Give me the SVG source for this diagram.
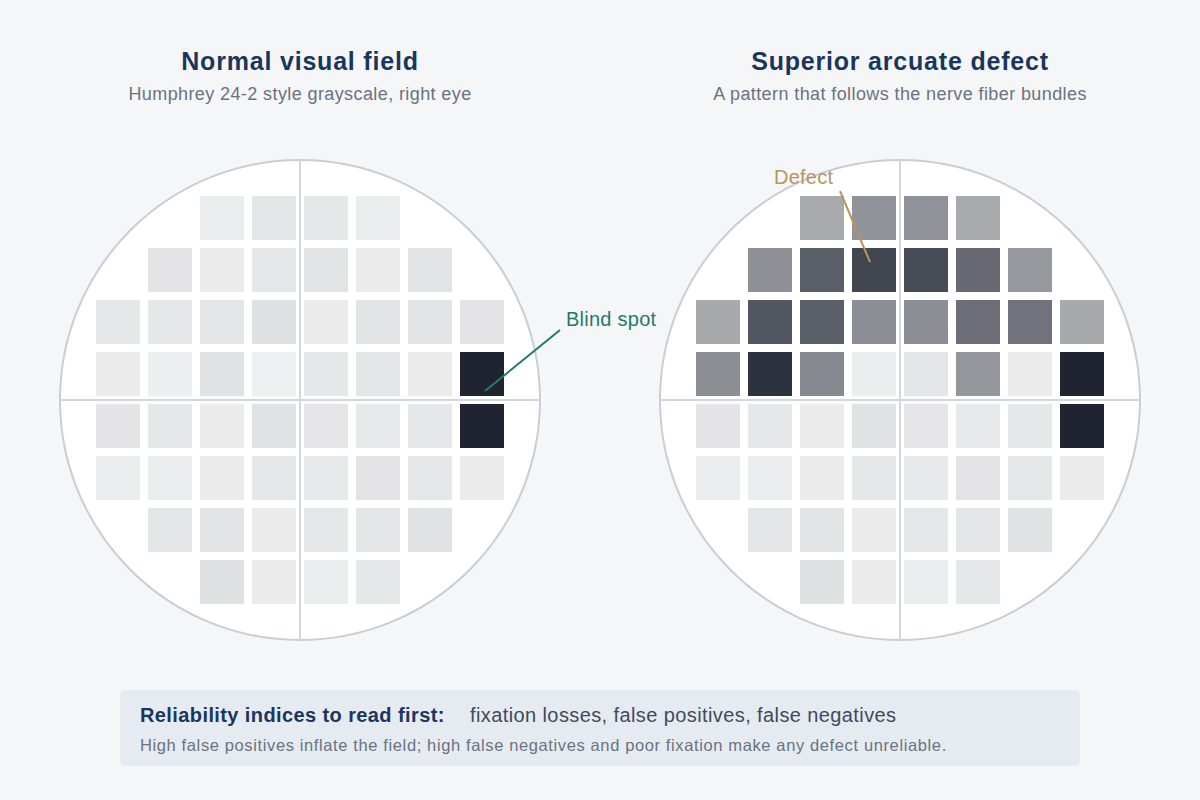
<svg xmlns="http://www.w3.org/2000/svg" width="1200" height="800" viewBox="0 0 1200 800">
<style>
.bg{fill:#f5f6f8}
.title{font-family:"Liberation Sans",Arial,sans-serif;font-weight:bold;font-size:25px;letter-spacing:0.8px;fill:#1b365d;text-anchor:middle}
.sub{font-family:"Liberation Sans",Arial,sans-serif;font-size:18px;letter-spacing:0.4px;fill:#6b7280;text-anchor:middle}
.field{fill:#ffffff;stroke:#c9cdd5;stroke-width:2}
.axis{stroke:#d3d6dc;stroke-width:2}
.lbl{font-family:"Liberation Sans",Arial,sans-serif;font-size:20px;letter-spacing:0.25px}
.note{fill:#e6ebf2}
.nb{font-family:"Liberation Sans",Arial,sans-serif;font-weight:bold;font-size:20px;letter-spacing:0.4px;fill:#1b365d}
.nr{font-family:"Liberation Sans",Arial,sans-serif;font-size:20px;letter-spacing:0.4px;fill:#3f4a5c}
.ns{font-family:"Liberation Sans",Arial,sans-serif;font-size:16.5px;letter-spacing:0.62px;fill:#6b7280}
</style>
<rect class="bg" x="0" y="0" width="1200" height="800"/>

<g id="left-title">
<text class="title" x="300" y="70">Normal visual field</text>
<text class="sub" x="300" y="100">Humphrey 24-2 style grayscale, right eye</text>
</g>
<g id="right-title">
<text class="title" x="900" y="70">Superior arcuate defect</text>
<text class="sub" x="900" y="100">A pattern that follows the nerve fiber bundles</text>
</g>

<g id="normal-field">
<circle class="field" cx="300" cy="400" r="240"/>
<line class="axis" x1="300" y1="160" x2="300" y2="640"/>
<line class="axis" x1="60" y1="400" x2="540" y2="400"/>
<g class="c">
<rect x="200" y="196" width="44" height="44" fill="#ebecee"/>
<rect x="252" y="196" width="44" height="44" fill="#e4e5e7"/>
<rect x="304" y="196" width="44" height="44" fill="#e6e7e9"/>
<rect x="356" y="196" width="44" height="44" fill="#ebecee"/>

<rect x="148" y="248" width="44" height="44" fill="#e4e4e6"/>
<rect x="200" y="248" width="44" height="44" fill="#ebebeb"/>
<rect x="252" y="248" width="44" height="44" fill="#e6e7e9"/>
<rect x="304" y="248" width="44" height="44" fill="#e2e3e5"/>
<rect x="356" y="248" width="44" height="44" fill="#ebebeb"/>
<rect x="408" y="248" width="44" height="44" fill="#e2e3e5"/>

<rect x="96" y="300" width="44" height="44" fill="#e6e7e9"/>
<rect x="148" y="300" width="44" height="44" fill="#e6e7e9"/>
<rect x="200" y="300" width="44" height="44" fill="#e4e5e7"/>
<rect x="252" y="300" width="44" height="44" fill="#dfe0e2"/>
<rect x="304" y="300" width="44" height="44" fill="#ebebeb"/>
<rect x="356" y="300" width="44" height="44" fill="#e3e4e6"/>
<rect x="408" y="300" width="44" height="44" fill="#e3e4e6"/>
<rect x="460" y="300" width="44" height="44" fill="#e4e4e6"/>

<rect x="96" y="352" width="44" height="44" fill="#ecebeb"/>
<rect x="148" y="352" width="44" height="44" fill="#eceef0"/>
<rect x="200" y="352" width="44" height="44" fill="#e1e2e4"/>
<rect x="252" y="352" width="44" height="44" fill="#eeeff1"/>
<rect x="304" y="352" width="44" height="44" fill="#e6e7e9"/>
<rect x="356" y="352" width="44" height="44" fill="#e4e5e7"/>
<rect x="408" y="352" width="44" height="44" fill="#ecebeb"/>
<rect x="460" y="352" width="44" height="44" fill="#1f2430"/>

<rect x="96" y="404" width="44" height="44" fill="#e4e3e6"/>
<rect x="148" y="404" width="44" height="44" fill="#e6e7e9"/>
<rect x="200" y="404" width="44" height="44" fill="#ebebeb"/>
<rect x="252" y="404" width="44" height="44" fill="#e1e2e4"/>
<rect x="304" y="404" width="44" height="44" fill="#e5e4e7"/>
<rect x="356" y="404" width="44" height="44" fill="#e8e9eb"/>
<rect x="408" y="404" width="44" height="44" fill="#e6e7e9"/>
<rect x="460" y="404" width="44" height="44" fill="#1f2430"/>

<rect x="96" y="456" width="44" height="44" fill="#ecedef"/>
<rect x="148" y="456" width="44" height="44" fill="#ecedef"/>
<rect x="200" y="456" width="44" height="44" fill="#ebebeb"/>
<rect x="252" y="456" width="44" height="44" fill="#e6e7e9"/>
<rect x="304" y="456" width="44" height="44" fill="#e8e9eb"/>
<rect x="356" y="456" width="44" height="44" fill="#e3e3e5"/>
<rect x="408" y="456" width="44" height="44" fill="#e6e7e9"/>
<rect x="460" y="456" width="44" height="44" fill="#ebebeb"/>

<rect x="148" y="508" width="44" height="44" fill="#e4e5e7"/>
<rect x="200" y="508" width="44" height="44" fill="#e3e4e6"/>
<rect x="252" y="508" width="44" height="44" fill="#ebebeb"/>
<rect x="304" y="508" width="44" height="44" fill="#e6e7e9"/>
<rect x="356" y="508" width="44" height="44" fill="#e4e5e7"/>
<rect x="408" y="508" width="44" height="44" fill="#e1e2e4"/>

<rect x="200" y="560" width="44" height="44" fill="#dfe0e2"/>
<rect x="252" y="560" width="44" height="44" fill="#ebebeb"/>
<rect x="304" y="560" width="44" height="44" fill="#ecedef"/>
<rect x="356" y="560" width="44" height="44" fill="#e6e7e9"/>
</g>
</g>

<g id="arcuate-field">
<circle class="field" cx="900" cy="400" r="240"/>
<line class="axis" x1="900" y1="160" x2="900" y2="640"/>
<line class="axis" x1="660" y1="400" x2="1140" y2="400"/>
<g class="c">
<rect x="800" y="196" width="44" height="44" fill="#a8aaae"/>
<rect x="852" y="196" width="44" height="44" fill="#909399"/>
<rect x="904" y="196" width="44" height="44" fill="#909399"/>
<rect x="956" y="196" width="44" height="44" fill="#a8aaae"/>

<rect x="748" y="248" width="44" height="44" fill="#8e9096"/>
<rect x="800" y="248" width="44" height="44" fill="#5a5e66"/>
<rect x="852" y="248" width="44" height="44" fill="#414651"/>
<rect x="904" y="248" width="44" height="44" fill="#484c56"/>
<rect x="956" y="248" width="44" height="44" fill="#676a73"/>
<rect x="1008" y="248" width="44" height="44" fill="#96989d"/>

<rect x="696" y="300" width="44" height="44" fill="#a7a9ad"/>
<rect x="748" y="300" width="44" height="44" fill="#525661"/>
<rect x="800" y="300" width="44" height="44" fill="#5b5f68"/>
<rect x="852" y="300" width="44" height="44" fill="#8c8e95"/>
<rect x="904" y="300" width="44" height="44" fill="#8c8e95"/>
<rect x="956" y="300" width="44" height="44" fill="#6c6f78"/>
<rect x="1008" y="300" width="44" height="44" fill="#70737c"/>
<rect x="1060" y="300" width="44" height="44" fill="#a7a9ad"/>

<rect x="696" y="352" width="44" height="44" fill="#8c8e94"/>
<rect x="748" y="352" width="44" height="44" fill="#2c323e"/>
<rect x="800" y="352" width="44" height="44" fill="#878990"/>
<rect x="852" y="352" width="44" height="44" fill="#ecedef"/>
<rect x="904" y="352" width="44" height="44" fill="#e4e5e7"/>
<rect x="956" y="352" width="44" height="44" fill="#94969c"/>
<rect x="1008" y="352" width="44" height="44" fill="#ebebeb"/>
<rect x="1060" y="352" width="44" height="44" fill="#1f2430"/>

<rect x="696" y="404" width="44" height="44" fill="#e4e3e6"/>
<rect x="748" y="404" width="44" height="44" fill="#e6e7e9"/>
<rect x="800" y="404" width="44" height="44" fill="#ebebeb"/>
<rect x="852" y="404" width="44" height="44" fill="#e1e2e4"/>
<rect x="904" y="404" width="44" height="44" fill="#e5e4e7"/>
<rect x="956" y="404" width="44" height="44" fill="#e8e9eb"/>
<rect x="1008" y="404" width="44" height="44" fill="#e6e7e9"/>
<rect x="1060" y="404" width="44" height="44" fill="#1f2430"/>

<rect x="696" y="456" width="44" height="44" fill="#ecedef"/>
<rect x="748" y="456" width="44" height="44" fill="#ecedef"/>
<rect x="800" y="456" width="44" height="44" fill="#ebebeb"/>
<rect x="852" y="456" width="44" height="44" fill="#e6e7e9"/>
<rect x="904" y="456" width="44" height="44" fill="#e8e9eb"/>
<rect x="956" y="456" width="44" height="44" fill="#e3e3e5"/>
<rect x="1008" y="456" width="44" height="44" fill="#e6e7e9"/>
<rect x="1060" y="456" width="44" height="44" fill="#ebebeb"/>

<rect x="748" y="508" width="44" height="44" fill="#e4e5e7"/>
<rect x="800" y="508" width="44" height="44" fill="#e3e4e6"/>
<rect x="852" y="508" width="44" height="44" fill="#ebebeb"/>
<rect x="904" y="508" width="44" height="44" fill="#e6e7e9"/>
<rect x="956" y="508" width="44" height="44" fill="#e4e5e7"/>
<rect x="1008" y="508" width="44" height="44" fill="#e1e2e4"/>

<rect x="800" y="560" width="44" height="44" fill="#dfe0e2"/>
<rect x="852" y="560" width="44" height="44" fill="#ebebeb"/>
<rect x="904" y="560" width="44" height="44" fill="#ecedef"/>
<rect x="956" y="560" width="44" height="44" fill="#e6e7e9"/>
</g>
</g>

<g id="connectors">
<line x1="560" y1="330" x2="485" y2="391" stroke="#1f7a6e" stroke-width="2"/>
<line x1="840" y1="191" x2="870" y2="262" stroke="#b8955a" stroke-width="2"/>
</g>

<g id="blind-spot-label">
<text class="lbl" x="566" y="326" fill="#1f7a6e">Blind spot</text>
</g>
<g id="defect-label">
<text class="lbl" x="774" y="184" fill="#b8955a">Defect</text>
</g>

<g id="reliability-note">
<rect class="note" x="120" y="690" width="960" height="76" rx="6"/>
<text class="nb" x="140" y="722">Reliability indices to read first:</text>
<text class="nr" x="470" y="722">fixation losses, false positives, false negatives</text>
<text class="ns" x="140" y="751">High false positives inflate the field; high false negatives and poor fixation make any defect unreliable.</text>
</g>
</svg>
